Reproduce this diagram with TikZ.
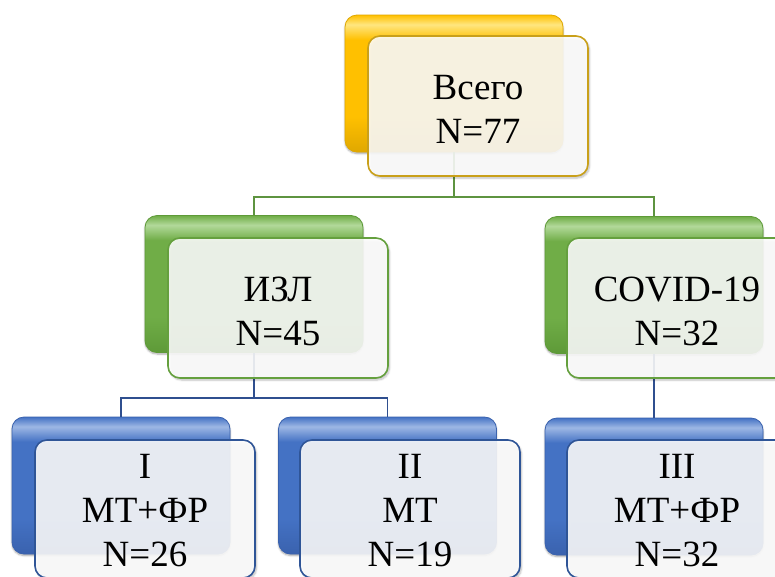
\documentclass[tikz,border=0pt]{standalone}
\usepackage{fontspec}
\setmainfont{Liberation Serif}
\newfontfamily\boxfont{Liberation Serif}
\usetikzlibrary{shadows.blur}
\definecolor{ybase}{HTML}{FFC000}
\definecolor{ylight}{HTML}{FFE680}
\definecolor{ydark}{HTML}{E0A800}
\definecolor{yedge}{HTML}{C9A01A}
\definecolor{gbase}{HTML}{70AD47}
\definecolor{glight}{HTML}{B2D99A}
\definecolor{gdark}{HTML}{5E9A38}
\definecolor{gedge}{HTML}{65A03E}
\definecolor{gline}{HTML}{5E9440}
\definecolor{bbase}{HTML}{4472C4}
\definecolor{blight}{HTML}{9DB7E4}
\definecolor{bdark}{HTML}{3A62AE}
\definecolor{bedge}{HTML}{2F5597}
\definecolor{bline}{HTML}{2F4F8F}
\pgfdeclareverticalshading{yshade}{100bp}{color(0bp)=(ydark); color(25bp)=(ydark); color(38bp)=(ybase); color(66bp)=(ybase); color(71.5bp)=(ylight); color(75bp)=(ybase); color(100bp)=(ybase)}
\pgfdeclareverticalshading{gshade}{100bp}{color(0bp)=(gdark); color(25bp)=(gdark); color(38bp)=(gbase); color(66bp)=(gbase); color(71.5bp)=(glight); color(75bp)=(gbase); color(100bp)=(gbase)}
\pgfdeclareverticalshading{bshade}{100bp}{color(0bp)=(bdark); color(25bp)=(bdark); color(38bp)=(bbase); color(66bp)=(bbase); color(71.5bp)=(blight); color(75bp)=(bbase); color(100bp)=(bbase)}
\tikzset{
  backbox/.style={rectangle, rounded corners=12pt, minimum width=218pt, minimum height=137pt,
    draw=#1dark, line width=0.8pt, shading=#1shade,
    blur shadow={shadow xshift=0pt, shadow yshift=-1.5pt, shadow blur steps=6, shadow opacity=35}},
  frontbox/.style={rectangle, rounded corners=12pt, minimum width=220pt, minimum height=140pt,
    draw=#1edge, line width=1.6pt, fill=white, fill opacity=0.88,
    blur shadow={shadow xshift=1.5pt, shadow yshift=-2pt, shadow blur steps=6, shadow opacity=30}},
  boxtext/.style={align=center, font=\boxfont\fontsize{37}{44}\selectfont, text=black, inner sep=0pt},
  gconn/.style={draw=gline, line width=1.6pt},
  bconn/.style={draw=bline, line width=1.6pt},
}
\begin{document}
\begin{tikzpicture}[x=1pt,y=-1pt]
\useasboundingbox (0,0) rectangle (775,576);
% back boxes
\node[backbox=y] (topb) at (454,83.5) {};
\node[backbox=g] (izlb) at (254,284) {};
\node[backbox=g] (covb) at (654,285) {};
\node[backbox=b] (ib) at (121,485.5) {};
\node[backbox=b] (iib) at (387.5,485.5) {};
\node[backbox=b] (iiib) at (654,486.5) {};
% connectors
\draw[gconn] (topb.south) -- (topb.south |- 0,197) -| (izlb.north);
\draw[gconn] (topb.south |- 0,197) -| (covb.north);
\draw[bconn] (izlb.south) -- (izlb.south |- 0,398) -| (ib.north);
\draw[bconn] (izlb.south |- 0,398) -| (iib.north);
\draw[bconn] (covb.south) -- (iiib.north);
% front boxes
\node[frontbox=y] (topf) at (478,106) {};
\node[frontbox=g] (izlf) at (278,308) {};
\node[frontbox=g] (covf) at (677,308) {};
\node[frontbox=b, minimum height=138pt] (if) at (145,509) {};
\node[frontbox=b, minimum height=138pt] (iif) at (410,509) {};
\node[frontbox=b, minimum height=138pt] (iiif) at (677,509) {};
% texts
\node[boxtext] (topt) at (478,109) {Всего\\N=77};
\node[boxtext] (izlt) at (278,311) {ИЗЛ\\N=45};
\node[boxtext] (covt) at (677,311) {COVID-19\\N=32};
\node[boxtext] (it) at (145,511) {I\\МТ+ФР\\N=26};
\node[boxtext] (iit) at (410,511) {II\\МТ\\N=19};
\node[boxtext] (iiit) at (677,511) {III\\МТ+ФР\\N=32};
\end{tikzpicture}
\end{document}
